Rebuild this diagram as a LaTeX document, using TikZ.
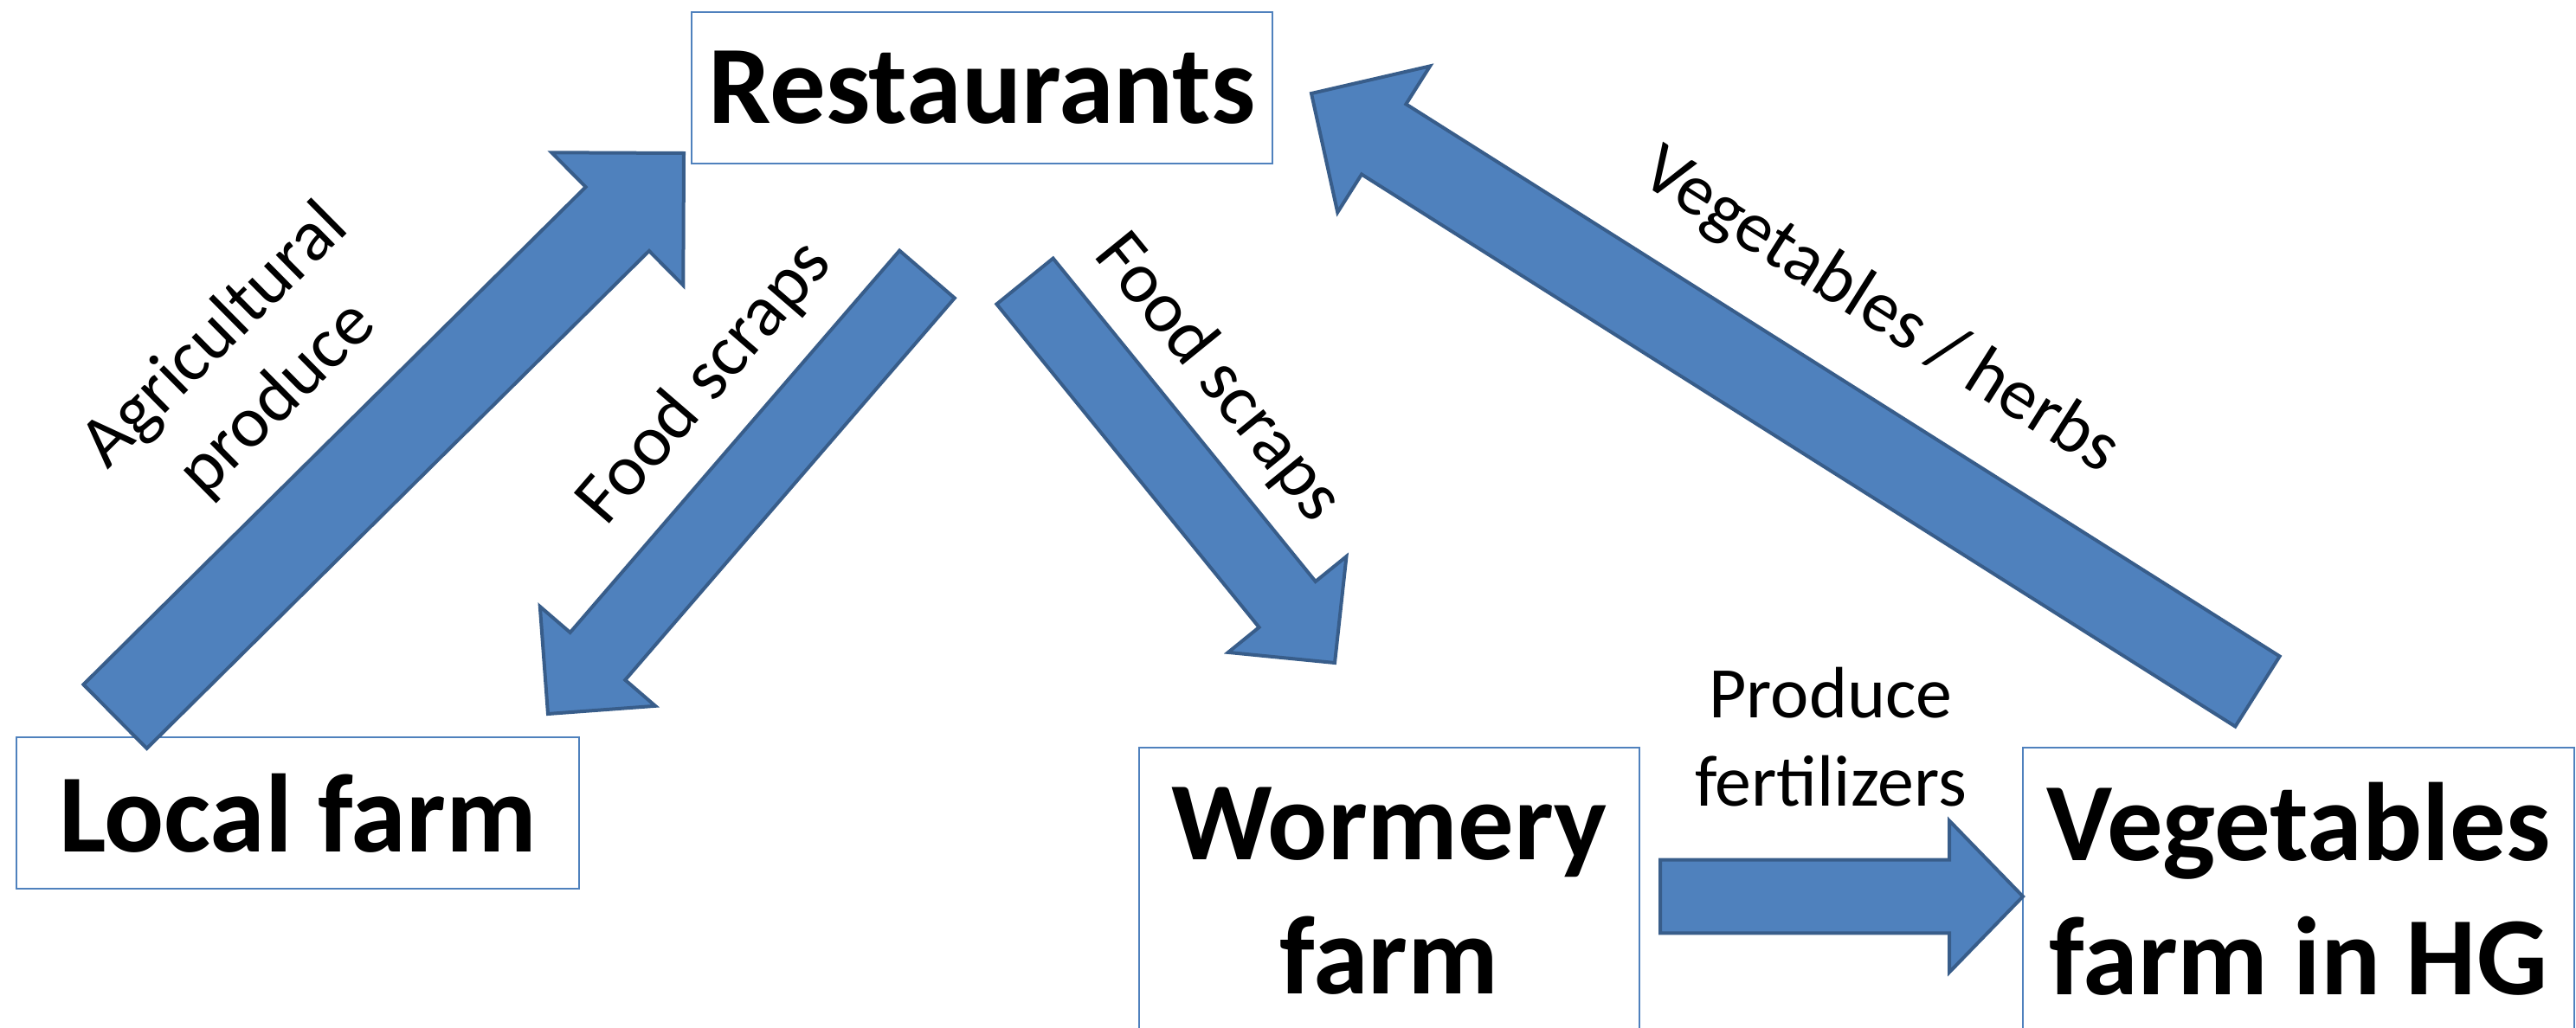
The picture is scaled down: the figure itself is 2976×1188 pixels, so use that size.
\documentclass[tikz,border=0pt]{standalone}
\usepackage{fontspec}
\setmainfont{Carlito}
\usetikzlibrary{calc}
\definecolor{FlowBlue}{RGB}{79,129,189}
\definecolor{FlowEdge}{RGB}{56,93,138}
\tikzset{
  place/.style={draw=FlowBlue, line width=0.5pt, align=center, inner sep=0pt,
    font=\fontsize{32.2}{38.8}\selectfont\bfseries},
  flow/.style={fill=FlowBlue, draw=FlowEdge, line width=1pt, line join=miter},
  flowlabel/.style={align=center, inner sep=0pt, font=\fontsize{21}{25.5}\selectfont}
}
% #1 tail, #2 tip, #3 half shaft, #4 half head, #5 head length
\newcommand\blockarrow[5]{%
  \coordinate (base) at ($(#2)!#5!(#1)$);
  \draw[flow] ($(#1)!#3!90:(#2)$) -- ($(base)!#3!-90:(#1)$) -- ($(base)!#4!-90:(#1)$)
    -- (#2) -- ($(base)!#4!90:(#1)$) -- ($(base)!#3!90:(#1)$) -- ($(#1)!#3!-90:(#2)$) -- cycle;
}
\begin{document}
\begin{tikzpicture}[x=0.25pt,y=-0.25pt]
        \useasboundingbox (0,0) rectangle (2976,1188);
        \clip (0,0) rectangle (2976,1188);
        % places
        \node[place, minimum width=167.75pt, minimum height=43.75pt] (rest) at (1134.5,101.5) {Restaurants};
        \node[place, minimum width=162.5pt, minimum height=43.75pt] (local) at (344,939.5) {Local farm};
        \node[place, minimum width=144.5pt, minimum height=83pt] (worm) at (1605,1030) {Wormery\\farm};
        \node[place, minimum width=159.25pt, minimum height=81.5pt] (veg) at (2655.5,1027) {Vegetables\\farm in HG};
        % arrow ends
        \coordinate (localOut) at (133,828);
        \coordinate (restIn) at (790,177);
        \coordinate (restOutL) at (1071,317);
        \coordinate (localIn) at (633,825);
        \coordinate (restOutR) at (1184,325);
        \coordinate (wormIn) at (1542,766);
        \coordinate (vegOut) at (2608,799);
        \coordinate (restInR) at (1515,108);
        \coordinate (wormOut) at (1918,1036);
        \coordinate (vegIn) at (2337,1036);
        % flows
        \blockarrow{localOut}{restIn}{13pt}{27pt}{27pt}
        \blockarrow{restOutL}{localIn}{10.5pt}{22pt}{22pt}
        \blockarrow{restOutR}{wormIn}{10.5pt}{22pt}{21.75pt}
        \blockarrow{vegOut}{restInR}{12pt}{25pt}{24.75pt}
        \blockarrow{wormOut}{vegIn}{10.6pt}{21.9pt}{21.25pt}
        % labels
        \node[flowlabel, rotate=44.7] (agri) at (285,425) {Agricultural\\produce};
        \node[flowlabel, rotate=49.2] (scrapsL) at (815,443) {Food scraps};
        \node[flowlabel, rotate=-50.9] (scrapsR) at (1407,437) {Food scraps};
        \node[flowlabel, rotate=-32.3] (herbs) at (2172,360) {Vegetables / herbs};
        \node[flowlabel] (fert) at (2115,852) {Produce\\fertilizers};
\end{tikzpicture}
\end{document}
